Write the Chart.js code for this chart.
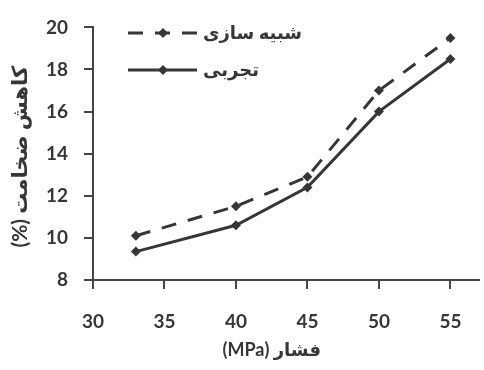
<!DOCTYPE html>
<html>
<head>
<meta charset="utf-8">
<script src="https://cdn.jsdelivr.net/npm/chart.js@4"></script>
<style>
  html, body { margin: 0; padding: 0; background: #fff; }
  #wrap { width: 484px; height: 370px; }
</style>
</head>
<body>
<div id="wrap"><canvas id="chart" width="484" height="370"></canvas></div>
<script>
// Thickness reduction versus forming pressure
const pressures = [33, 40, 45, 50, 55];
const simulated = [10.1, 11.5, 12.9, 17.0, 19.5];
const experimental = [9.35, 10.6, 12.4, 16.0, 18.5];
const xTicks = [30, 35, 40, 45, 50, 55];
const yTicks = [8, 10, 12, 14, 16, 18, 20];
const seriesNames = ['شبیه سازی', 'تجربی'];
const xTitle = 'فشار (MPa)';
const yTitle = 'کاهش ضخامت (%)';

const ink = '#363636';
const axisInk = '#444444';
const textFont = 'Lato, "DejaVu Sans", sans-serif';

const toPoints = ys => pressures.map((x, i) => ({ x, y: ys[i] }));

// Legend drawn inside the plot, line sample with a marker in the middle
const insideLegend = {
  id: 'insideLegend',
  afterDraw(chart) {
    const ctx = chart.ctx;
    const rows = [
      { ds: 0, y: 33 },
      { ds: 1, y: 70 }
    ];
    ctx.save();
    rows.forEach(r => {
      const ds = chart.data.datasets[r.ds];
      const x0 = 128, x1 = 197, xm = 163;
      ctx.beginPath();
      ctx.strokeStyle = ds.borderColor;
      ctx.lineWidth = ds.borderWidth;
      ctx.setLineDash(ds.borderDash || []);
      ctx.moveTo(x0, r.y);
      ctx.lineTo(x1, r.y);
      ctx.stroke();
      ctx.setLineDash([]);
      ctx.beginPath();
      const s = ds.pointRadius;
      ctx.moveTo(xm, r.y - s);
      ctx.lineTo(xm + s, r.y);
      ctx.lineTo(xm, r.y + s);
      ctx.lineTo(xm - s, r.y);
      ctx.closePath();
      ctx.fillStyle = ds.pointBackgroundColor;
      ctx.fill();
      ctx.direction = 'rtl';
      ctx.textAlign = 'left';
      ctx.textBaseline = 'middle';
      ctx.fillStyle = ink;
      ctx.font = 'bold 18px ' + textFont;
      ctx.fillText(ds.label, 203, r.y);
    });
    ctx.restore();
  }
};

// Axis titles (right-to-left text)
const axisTitles = {
  id: 'axisTitles',
  afterDraw(chart) {
    const ctx = chart.ctx;
    const xs = chart.scales.x;
    ctx.save();
    ctx.direction = 'rtl';
    ctx.fillStyle = ink;
    ctx.textAlign = 'center';
    ctx.textBaseline = 'middle';
    ctx.font = 'bold 18px ' + textFont;
    const xc = (xs.getPixelForValue(xTicks[0]) + xs.getPixelForValue(xTicks[xTicks.length - 1])) / 2;
    ctx.fillText(xTitle, xc, 350);
    ctx.font = 'bold 21px ' + textFont;
    const yc = (chart.chartArea.top + chart.chartArea.bottom) / 2;
    ctx.translate(20, yc + 3);
    ctx.rotate(-Math.PI / 2);
    ctx.fillText(yTitle, 0, 0);
    ctx.restore();
  }
};

new Chart(document.getElementById('chart'), {
  type: 'line',
  data: {
    datasets: [
      {
        label: seriesNames[0],
        data: toPoints(simulated),
        borderColor: ink,
        borderWidth: 3,
        borderDash: [15, 12],
        pointStyle: 'rectRot',
        pointRadius: 5,
        pointBackgroundColor: ink,
        pointBorderColor: ink,
        pointBorderWidth: 0,
        tension: 0
      },
      {
        label: seriesNames[1],
        data: toPoints(experimental),
        borderColor: ink,
        borderWidth: 3,
        pointStyle: 'rectRot',
        pointRadius: 5,
        pointBackgroundColor: ink,
        pointBorderColor: ink,
        pointBorderWidth: 0,
        tension: 0
      }
    ]
  },
  options: {
    responsive: false,
    animation: false,
    layout: { padding: { top: 14, left: 0, right: 0, bottom: 0 } },
    plugins: {
      legend: { display: false },
      tooltip: { enabled: false }
    },
    scales: {
      x: {
        type: 'linear',
        min: 30,
        max: 57,
        afterBuildTicks: s => { s.ticks = xTicks.map(v => ({ value: v })); },
        afterFit: s => { s.height = 90; },
        border: { color: axisInk, width: 2 },
        grid: { drawOnChartArea: false, tickLength: 9, color: axisInk, lineWidth: 2 },
        ticks: { color: ink, font: { family: textFont, size: 19, weight: 'bold' }, padding: 21, maxRotation: 0 }
      },
      y: {
        type: 'linear',
        min: 8,
        max: 20,
        afterBuildTicks: s => { s.ticks = yTicks.map(v => ({ value: v })); },
        afterFit: s => { s.width = 93; },
        border: { color: axisInk, width: 2 },
        grid: { drawOnChartArea: false, tickLength: 9, color: axisInk, lineWidth: 2 },
        ticks: { color: ink, font: { family: textFont, size: 19, weight: 'bold' }, padding: 16 }
      }
    }
  },
  plugins: [insideLegend, axisTitles]
});
</script>
</body>
</html>
